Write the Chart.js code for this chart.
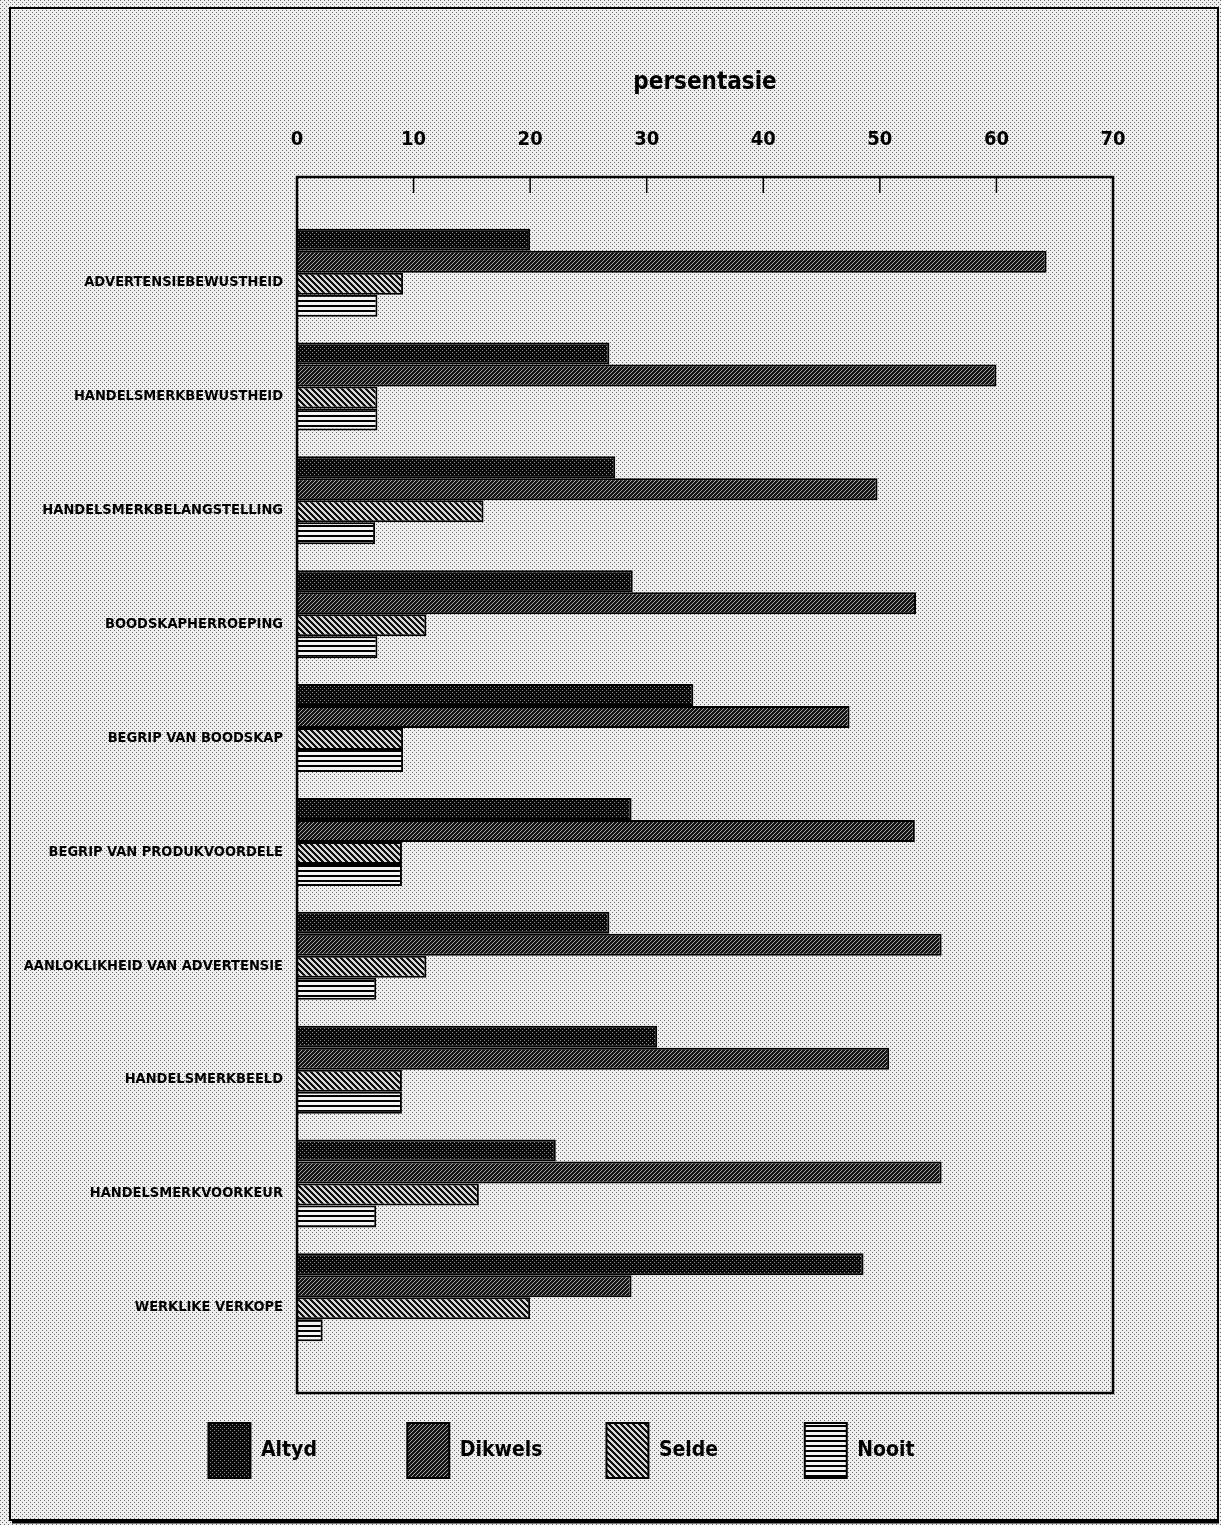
<!DOCTYPE html>
<html>
<head>
<meta charset="utf-8">
<script src="https://cdn.jsdelivr.net/npm/chart.js@4.4.0/dist/chart.umd.min.js"></script>
<style>
  html, body { margin: 0; padding: 0; background: #fff; }
  #wrap { width: 1221px; height: 1525px; }
</style>
</head>
<body>
<div id="wrap"><canvas id="chart" width="1221" height="1525"></canvas></div>
<script>
// Categories (top to bottom) and the four answer series, in percent
const categories = [
  'ADVERTENSIEBEWUSTHEID',
  'HANDELSMERKBEWUSTHEID',
  'HANDELSMERKBELANGSTELLING',
  'BOODSKAPHERROEPING',
  'BEGRIP VAN BOODSKAP',
  'BEGRIP VAN PRODUKVOORDELE',
  'AANLOKLIKHEID VAN ADVERTENSIE',
  'HANDELSMERKBEELD',
  'HANDELSMERKVOORKEUR',
  'WERKLIKE VERKOPE'
];
const altyd   = [20.0, 26.8, 27.3, 28.8, 34.0, 28.7, 26.8, 30.9, 22.2, 48.6];
const dikwels = [64.3, 60.0, 49.8, 53.1, 47.4, 53.0, 55.3, 50.8, 55.3, 28.7];
const selde   = [9.1, 6.9, 16.0, 11.1, 9.1, 9.0, 11.1, 9.0, 15.6, 20.0];
const nooit   = [6.9, 6.9, 6.7, 6.9, 9.1, 9.0, 6.8, 9.0, 6.8, 2.2];
const seriesNames = ['Altyd', 'Dikwels', 'Selde', 'Nooit'];
const xTicks = [0, 10, 20, 30, 40, 50, 60, 70];

const FONT = "'Liberation Sans Narrow', 'DejaVu Sans Condensed', 'Arial Narrow', sans-serif";
const LEGEND_FONT_SIZE = 21;

const canvas = document.getElementById('chart');
const ctx = canvas.getContext('2d');

// small tiles used as fill patterns (like the old printer hatching)
function makePattern(w, h, paint) {
  const tile = document.createElement('canvas');
  tile.width = w;
  tile.height = h;
  const g = tile.getContext('2d');
  paint(g, w, h);
  return ctx.createPattern(tile, 'repeat');
}

const paperPattern = makePattern(4, 4, function (g) {
  g.fillStyle = '#efefef';
  g.fillRect(0, 0, 4, 4);
  g.fillStyle = '#6a6a6a';
  g.fillRect(0, 0, 1, 1);
  g.fillRect(2, 2, 1, 1);
});

const altydPattern = makePattern(4, 4, function (g) {
  g.fillStyle = '#0a0a0a';
  g.fillRect(0, 0, 4, 4);
  g.fillStyle = '#909090';
  g.fillRect(0, 0, 1, 1);
  g.fillRect(2, 2, 1, 1);
});

const dikwelsPattern = makePattern(4, 4, function (g) {
  g.fillStyle = '#151515';
  g.fillRect(0, 0, 4, 4);
  g.fillStyle = '#a8a8a8';
  for (let i = 0; i < 4; i++) g.fillRect(3 - i, i, 1, 1);
});

const seldePattern = makePattern(6, 6, function (g) {
  for (let y = 0; y < 6; y++) {
    for (let x = 0; x < 6; x++) {
      g.fillStyle = (((x - y) % 6) + 6) % 6 < 3 ? '#111' : '#d8d8d8';
      g.fillRect(x, y, 1, 1);
    }
  }
});

const nooitPattern = makePattern(4, 5, function (g) {
  g.fillStyle = '#f4f4f4';
  g.fillRect(0, 0, 4, 5);
  g.fillStyle = '#000';
  g.fillRect(0, 0, 4, 2);
});

function toPoints(values) {
  return values.map((v, i) => ({ x: v, y: i }));
}

// pad legend text with thin spaces so the entries sit in equal slots
function padLegendText(text, target) {
  ctx.save();
  ctx.font = 'bold ' + LEGEND_FONT_SIZE + 'px ' + FONT;
  let t = text;
  while (ctx.measureText(t).width < target) t += '\u2009';
  ctx.restore();
  return t;
}

const paperFrame = {
  id: 'paperFrame',
  beforeDraw(chart) {
    const c = chart.ctx;
    c.save();
    c.fillStyle = paperPattern;
    c.fillRect(0, 0, chart.width, chart.height);
    c.strokeStyle = '#000';
    c.lineWidth = 2;
    c.strokeRect(10, 8, 1208, 1512);
    c.lineWidth = 3;
    c.beginPath();
    c.moveTo(12, 1522);
    c.lineTo(1219, 1522);
    c.stroke();
    c.restore();
  },
  afterDatasetsDraw(chart) {
    const c = chart.ctx;
    const a = chart.chartArea;
    const xs = chart.scales.x;
    c.save();
    c.strokeStyle = '#000';
    c.lineWidth = 2.5;
    c.strokeRect(a.left, a.top, a.right - a.left, a.bottom - a.top);
    c.lineWidth = 1.5;
    xTicks.slice(1, -1).forEach(function (v) {
      const px = xs.getPixelForValue(v);
      c.beginPath();
      c.moveTo(px, a.top);
      c.lineTo(px, a.top + 16);
      c.stroke();
    });
    c.restore();
  }
};

new Chart(ctx, {
  type: 'bar',
  data: {
    datasets: [
      { label: seriesNames[0], data: toPoints(altyd), backgroundColor: altydPattern },
      { label: seriesNames[1], data: toPoints(dikwels), backgroundColor: dikwelsPattern },
      { label: seriesNames[2], data: toPoints(selde), backgroundColor: seldePattern },
      { label: seriesNames[3], data: toPoints(nooit), backgroundColor: nooitPattern }
    ]
  },
  plugins: [paperFrame],
  options: {
    responsive: false,
    animation: false,
    indexAxis: 'y',
    layout: { padding: { left: 10, right: 108, top: 40, bottom: 37 } },
    datasets: {
      bar: {
        borderColor: '#000',
        borderWidth: 2,
        categoryPercentage: 0.773,
        barPercentage: 1
      }
    },
    scales: {
      x: {
        type: 'linear',
        position: 'top',
        min: 0,
        max: 70,
        afterBuildTicks: function (axis) {
          axis.ticks = xTicks.map(v => ({ value: v }));
        },
        afterFit: function (axis) {
          axis.height = 137;
        },
        grid: { display: false, drawTicks: false },
        border: { display: false },
        ticks: {
          color: '#000',
          padding: 25,
          font: { family: FONT, size: 20, weight: 'bold' }
        },
        title: {
          display: true,
          text: 'persentasie',
          color: '#000',
          padding: { top: 28, bottom: 0 },
          font: { family: FONT, size: 24, weight: 'bold' }
        }
      },
      y: {
        type: 'linear',
        reverse: true,
        offset: false,
        min: -0.84,
        max: 9.84,
        afterBuildTicks: function (axis) {
          axis.ticks = categories.map((c, i) => ({ value: i }));
        },
        afterFit: function (axis) {
          axis.width = 287;
        },
        grid: { display: false, drawTicks: false, offset: false },
        border: { display: false },
        ticks: {
          color: '#000',
          padding: 14,
          labelOffset: 10,
          autoSkip: false,
          font: { family: FONT, size: 14.5, weight: 'bold' },
          callback: function (v) {
            return categories[v] !== undefined ? categories[v] : '';
          }
        }
      }
    },
    plugins: {
      tooltip: { enabled: false },
      legend: {
        position: 'bottom',
        labels: {
          color: '#000',
          boxWidth: 42,
          boxHeight: 55,
          padding: 30,
          font: { family: FONT, size: LEGEND_FONT_SIZE, weight: 'bold' },
          generateLabels: function (chart) {
            const items = Chart.defaults.plugins.legend.labels.generateLabels(chart);
            items.forEach(function (item, i) {
              if (i < items.length - 1) item.text = padLegendText(item.text, 113);
              item.lineWidth = 2;
            });
            return items;
          }
        }
      }
    }
  }
});
</script>
</body>
</html>
